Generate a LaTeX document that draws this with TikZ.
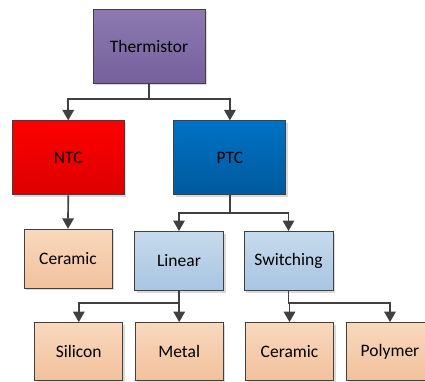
\documentclass[tikz,border=0pt]{standalone}
\usepackage{fontspec}
\setmainfont{Carlito}
\usetikzlibrary{arrows.meta,shadows}
\definecolor{edgegray}{HTML}{404040}
\definecolor{purpT}{HTML}{8C7AB0}
\definecolor{purpB}{HTML}{76609E}
\definecolor{redT}{HTML}{FF0000}
\definecolor{redB}{HTML}{DC0000}
\definecolor{blueT}{HTML}{0072C4}
\definecolor{blueB}{HTML}{005A9E}
\definecolor{lbT}{HTML}{C6DAEC}
\definecolor{lbB}{HTML}{A8C5E2}
\definecolor{peT}{HTML}{F9D8BD}
\definecolor{peB}{HTML}{F2C19C}
\tikzset{
  box/.style={rectangle, draw=edgegray, line width=1pt, inner sep=0pt,
    font=\fontsize{17.5}{20}\selectfont, text=black,
    drop shadow={shadow xshift=2pt, shadow yshift=-2pt, fill=black, opacity=0.15}},
  purple box/.style={box, top color=purpT, bottom color=purpB},
  red box/.style={box, top color=redT, bottom color=redB},
  blue box/.style={box, top color=blueT, bottom color=blueB},
  lblue box/.style={box, top color=lbT, bottom color=lbB},
  peach box/.style={box, top color=peT, bottom color=peB},
  big/.style={minimum width=112pt, minimum height=74pt},
  mid/.style={minimum width=89pt, minimum height=59pt},
  small/.style={minimum width=88pt, minimum height=58pt},
  conn/.style={draw=edgegray, line width=1.7pt, -{Triangle[length=10.5pt,width=11.5pt]}}
}
\begin{document}
\begin{tikzpicture}[x=1pt,y=1pt]
\useasboundingbox (0,0) rectangle (425,-381);
\node[purple box, big] (therm) at (149,-46.2) {Thermistor};
\node[red box, big] (ntc) at (68.2,-157.9) {NTC};
\node[blue box, big] (ptc) at (229.9,-157.9) {PTC};
\node[peach box, small, minimum height=59pt] (cer1) at (68,-258.8) {Ceramic};
\node[lblue box, mid] (lin) at (179,-261) {Linear};
\node[lblue box, mid] (sw) at (288.5,-261) {Switching};
\node[peach box, small] (sil) at (78.8,-351.6) {Silicon};
\node[peach box, small] (met) at (179.2,-351.6) {Metal};
\node[peach box, small] (cer2) at (289.5,-351.6) {Ceramic};
\node[peach box, small] (poly) at (390,-351.6) {Polymer};
\coordinate (b1) at (149,-99);
\coordinate (b2) at (229.9,-213.3);
\coordinate (b3) at (179,-303.3);
\coordinate (b4) at (288.5,-303.3);
\draw[conn] (therm.south) -- (b1) -| (ntc.north);
\draw[conn] (therm.south) -- (b1) -| (ptc.north);
\draw[conn] (ntc.south) -- (cer1.north);
\draw[conn] (ptc.south) -- (b2) -| (lin.north);
\draw[conn] (ptc.south) -- (b2) -| (sw.north);
\draw[conn] (lin.south) -- (b3) -| (sil.north);
\draw[conn] (lin.south) -- (b3) -| (met.north);
\draw[conn] (sw.south) -- (b4) -| (cer2.north);
\draw[conn] (sw.south) -- (b4) -| (poly.north);
\end{tikzpicture}
\end{document}
